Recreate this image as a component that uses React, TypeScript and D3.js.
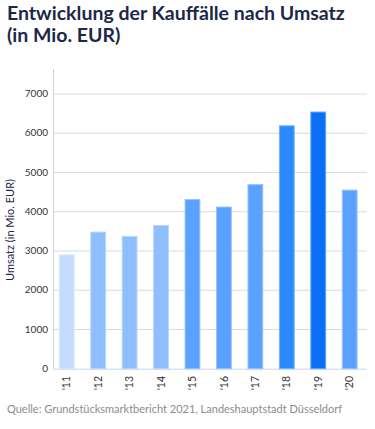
import React from "react";
import * as d3 from "d3";

const years = ["'11", "'12", "'13", "'14", "'15", "'16", "'17", "'18", "'19", "'20"];
const umsatz = [2900, 3480, 3370, 3650, 4310, 4120, 4690, 6190, 6540, 4550];
const barColors = ["#c3dcfd", "#8fbefe", "#8fbefe", "#8fbefe", "#5ba2fe", "#5ba2fe", "#5ba2fe", "#2a89fd", "#0970f5", "#5ba2fe"];
const yTicks = [0, 1000, 2000, 3000, 4000, 5000, 6000, 7000];

const W = 375;
const H = 429;
const font = "'Source Sans Pro', Lato, 'Noto Sans', sans-serif";

const App = () => {
  const x = d3.scaleBand().domain(years).range([51, 365.4]).paddingInner(0.53).paddingOuter(0.265);
  const y = d3.scaleLinear().domain([0, 7000]).range([368.7, 94]);
  const stroke = (c: string) => d3.interpolateRgb(c, "#ffffff")(0.35);

  return (
    <svg width={W} height={H} style={{ position: "absolute", left: 0, top: 0, fontFamily: font }}>
      <rect width={W} height={H} fill="#ffffff" />
      <text x={7} y={20} fontSize={19.5} fontWeight={700} fill="#1c2848">
        <tspan x={7} y={20}>Entwicklung der Kauffälle nach Umsatz</tspan>
        <tspan x={7} y={42}>(in Mio. EUR)</tspan>
      </text>

      {yTicks.map(t => (
        <g key={t}>
          {t > 0 && <line x1={53.5} x2={366.7} y1={y(t)} y2={y(t)} stroke="#d9d9e3" strokeWidth={1} />}
          <text x={48} y={y(t)} dy="0.32em" textAnchor="end" fontSize={10} fill="#333">{t}</text>
        </g>
      ))}
      <line x1={53.5} x2={53.5} y1={69} y2={y(0)} stroke="#d0d0d8" strokeWidth={1} />
      <line x1={53.5} x2={366.7} y1={y(0) + 0.5} y2={y(0) + 0.5} stroke="#c9d6ea" strokeWidth={1} />

      {years.map((yr, i) => (
        <rect
          key={yr}
          x={x(yr)}
          y={y(umsatz[i])}
          width={x.bandwidth()}
          height={y(0) - y(umsatz[i])}
          fill={barColors[i]}
          stroke={stroke(barColors[i])}
          strokeWidth={1}
        />
      ))}

      {years.map(yr => (
        <text
          key={yr}
          transform={`translate(${(x(yr) as number) + x.bandwidth() / 2},376) rotate(-90)`}
          textAnchor="end"
          dy="0.35em"
          fontSize={10.5}
          fill="#333"
        >
          {yr}
        </text>
      ))}

      <text transform="translate(14,230) rotate(-90)" textAnchor="middle" fontSize={11} fill="#1c2848">
        Umsatz (in Mio. EUR)
      </text>

      <text x={7} y={413} fontSize={11} fill="#8c8c8c">
        Quelle: Grundstücksmarktbericht 2021, Landeshauptstadt Düsseldorf
      </text>
    </svg>
  );
};

export default App;
